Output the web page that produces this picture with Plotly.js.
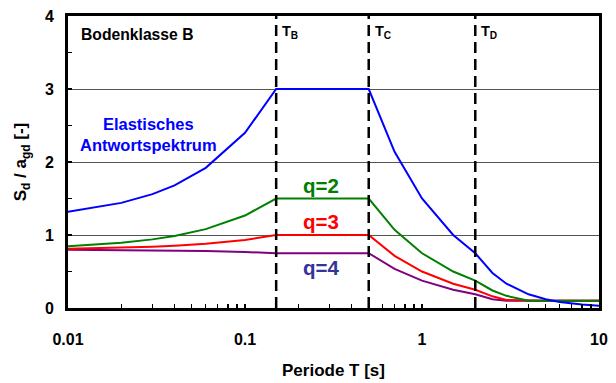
<!DOCTYPE html>
<html>
<head>
<meta charset="utf-8">
<script src="https://cdn.plot.ly/plotly-3.0.1.min.js"></script>
<style>
  html, body { margin: 0; padding: 0; background: #fff; }
  #chart { width: 616px; height: 383px; }
</style>
</head>
<body>
<div id="chart"></div>
<script>
// Periods T [s] at which the spectra are tabulated
const periods = [0.01, 0.02, 0.03, 0.04, 0.06, 0.1, 0.15, 0.5, 0.7, 1, 1.5, 2, 2.5, 3, 4, 5, 6, 8, 10];

// Elastic response spectrum, Sd/agd
const elastic = [1.32, 1.44, 1.56, 1.68, 1.92, 2.4, 3.0, 3.0, 2.14, 1.5, 1.0, 0.75, 0.48, 0.333, 0.1875, 0.12, 0.083, 0.047, 0.03];

// Design spectra for behaviour factors q = 2, 3, 4
const q2 = [0.847, 0.893, 0.94, 0.987, 1.08, 1.267, 1.5, 1.5, 1.071, 0.75, 0.5, 0.375, 0.24, 0.167, 0.1, 0.1, 0.1, 0.1, 0.1];
const q3 = [0.813, 0.827, 0.84, 0.853, 0.88, 0.933, 1.0, 1.0, 0.714, 0.5, 0.333, 0.25, 0.16, 0.111, 0.1, 0.1, 0.1, 0.1, 0.1];
const q4 = [0.797, 0.793, 0.79, 0.787, 0.78, 0.767, 0.75, 0.75, 0.536, 0.375, 0.25, 0.1875, 0.12, 0.1, 0.1, 0.1, 0.1, 0.1, 0.1];

// Corner periods of the spectrum
const cornerNames = ['T<sub>B</sub>', 'T<sub>C</sub>', 'T<sub>D</sub>'];
const cornerPeriods = [0.15, 0.5, 2];

// Axis ticks
const xTickVals = [0.01, 0.1, 1, 10];
const xTickText = ['0.01', '0.1', '1', '10'];
const yTickVals = [0, 1, 2, 3, 4];

const FONT = 'Liberation Sans, Arial, sans-serif';

function line(y, color) {
  return {
    x: periods, y: y, type: 'scatter', mode: 'lines',
    line: { color: color, width: 2 },
    hoverinfo: 'skip'
  };
}

const data = [
  line(q4, '#800080'),
  line(q3, '#ff0000'),
  line(q2, '#008000'),
  line(elastic, '#0000ff')
];

const shapes = cornerPeriods.map(t => ({
  type: 'line', xref: 'x', yref: 'paper',
  x0: t, x1: t, y0: 0, y1: 1,
  line: { color: '#000', width: 2.5, dash: '11px,6px' },
  layer: 'above'
}));

const annotations = [
  { text: 'Bodenklasse B', xref: 'paper', yref: 'paper', x: 0.02, y: 0.938,
    xanchor: 'left', yanchor: 'middle', showarrow: false,
    font: { family: FONT, size: 15.7, color: '#000', weight: 'bold' } },
  { text: 'Elastisches<br>Antwortspektrum', xref: 'paper', yref: 'paper', x: 0.151, y: 0.594,
    xanchor: 'center', yanchor: 'middle', align: 'center', showarrow: false,
    font: { family: FONT, size: 16.5, color: '#0000ff', weight: 'bold' } },
  { text: 'q=2', xref: 'paper', yref: 'paper', x: 0.476, y: 0.421,
    xanchor: 'center', yanchor: 'middle', showarrow: false,
    font: { family: FONT, size: 20.5, color: '#008000', weight: 'bold' } },
  { text: 'q=3', xref: 'paper', yref: 'paper', x: 0.476, y: 0.295,
    xanchor: 'center', yanchor: 'middle', showarrow: false,
    font: { family: FONT, size: 20.5, color: '#ff0000', weight: 'bold' } },
  { text: 'q=4', xref: 'paper', yref: 'paper', x: 0.476, y: 0.140,
    xanchor: 'center', yanchor: 'middle', showarrow: false,
    font: { family: FONT, size: 20.5, color: '#333399', weight: 'bold' } }
].concat(cornerPeriods.map((t, i) => ({
  text: cornerNames[i], xref: 'x', yref: 'paper', x: Math.log10(t), y: 0.945,
  xanchor: 'left', yanchor: 'middle', xshift: 4, showarrow: false,
  font: { family: FONT, size: 14.5, color: '#000', weight: 'bold' }
})));

const layout = {
  width: 616, height: 383,
  margin: { l: 68, r: 17, t: 16, b: 75 },
  paper_bgcolor: '#fff', plot_bgcolor: '#fff',
  showlegend: false,
  font: { family: FONT, color: '#000' },
  xaxis: {
    type: 'log', range: [-2, 1],
    tickmode: 'array', tickvals: xTickVals, ticktext: xTickText,
    ticks: 'inside', ticklen: 4, tickwidth: 1.5, tickcolor: '#000',
    ticklabelstandoff: 15,
    tickfont: { family: FONT, size: 16, weight: 'bold' },
    minor: { ticks: 'inside', ticklen: 4, tickwidth: 1.5, tickcolor: '#000', dtick: 'D1', showgrid: false },
    showgrid: false, zeroline: false,
    showline: true, linecolor: '#000', linewidth: 3, mirror: true,
    title: { text: 'Periode T [s]', standoff: 17,
      font: { family: FONT, size: 17, weight: 'bold' } }
  },
  yaxis: {
    range: [0, 4],
    tickmode: 'array', tickvals: yTickVals,
    ticks: 'inside', ticklen: 4, tickwidth: 1.5, tickcolor: '#000',
    ticklabelstandoff: 8,
    tickfont: { family: FONT, size: 16, weight: 'bold' },
    minor: { ticks: 'inside', ticklen: 4, tickwidth: 1.5, tickcolor: '#000', dtick: 0.5, showgrid: false },
    showgrid: true, gridcolor: '#555', gridwidth: 1,
    zeroline: false,
    showline: true, linecolor: '#000', linewidth: 3, mirror: true,
    title: { text: 'S<sub>d</sub> / a<sub>gd</sub> [-]', standoff: 14,
      font: { family: FONT, size: 17, weight: 'bold' } }
  },
  shapes: shapes,
  annotations: annotations
};

Plotly.newPlot('chart', data, layout, { staticPlot: true, displayModeBar: false });
</script>
</body>
</html>
